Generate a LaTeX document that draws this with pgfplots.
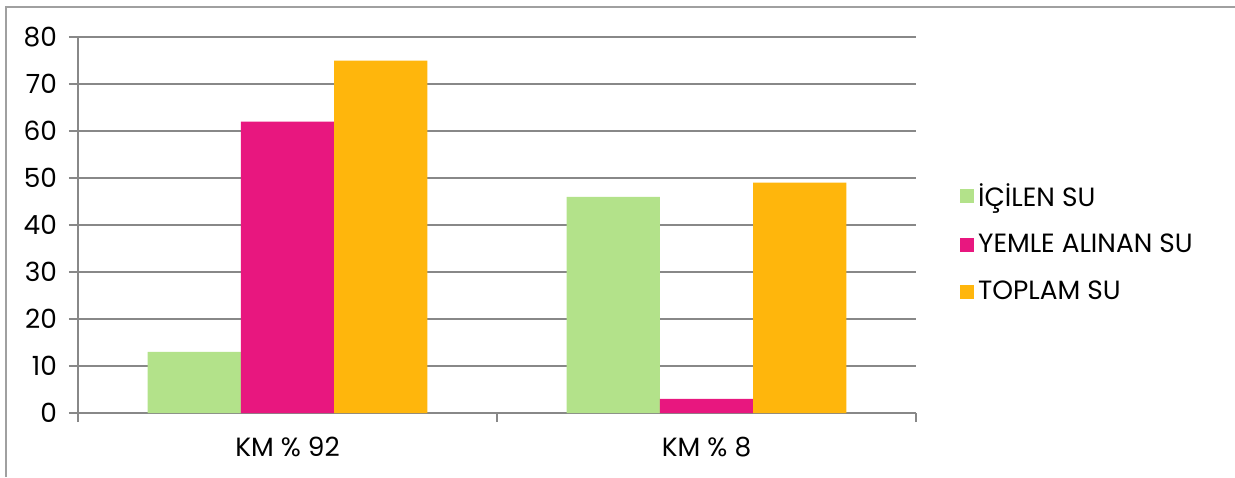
\documentclass[border=0pt]{standalone}
\usepackage{pgfplots}
\pgfplotsset{compat=1.18}
\usepackage{fontspec}
\setmainfont{Poppins}
\definecolor{cgreen}{RGB}{179,226,138}
\definecolor{cpink}{RGB}{232,23,127}
\definecolor{corange}{RGB}{255,182,12}
\definecolor{cgrid}{RGB}{136,136,136}
\begin{document}
\begin{tikzpicture}
\path[use as bounding box] (0pt,0pt) rectangle (617.5pt,238.5pt);
\draw[cgrid!80,line width=1pt] (3pt,0pt) -- (3pt,235pt) -- (617.5pt,235pt);
\begin{axis}[
  at={(39pt,32pt)}, anchor=south west,
  scale only axis, width=419pt, height=188pt,
  ybar=0pt, bar width=0.2226,
  xmin=-0.5, xmax=1.5, ymin=0, ymax=80,
  ytick={0,10,...,80},
  xtick={0,1}, xticklabels={KM \% 92, KM \% 8},
  major x tick style={draw=none},
  minor xtick={-0.5,0.5,1.5},
  minor x tick style={cgrid, line width=0.8pt},
  minor tick length=4.5pt,
  major tick length=4.5pt,
  tick align=outside,
  y tick style={cgrid, line width=0.8pt},
  ymajorgrids, grid style={cgrid, line width=0.7pt},
  axis x line*=bottom, axis y line*=left,
  axis line style={cgrid, line width=0.9pt},
  tick label style={font=\fontsize{13.2pt}{15pt}\selectfont, text=black},
  /pgf/number format/assume math mode=true,
  yticklabel style={xshift=-2.5pt},
  xticklabel style={yshift=-4pt},
  legend style={at={(1.045,0.452)}, anchor=west, draw=none, fill=none,
    font=\fontsize{13.2pt}{15pt}\selectfont, row sep=8.5pt,
    legend cell align=left},
  legend image code/.code={\fill[#1] (0pt,-3.5pt) rectangle (7pt,3.5pt);},
]
\addplot[fill=cgreen, draw=none] coordinates {(0,13) (1,46)};
\addplot[fill=cpink, draw=none] coordinates {(0,62) (1,3)};
\addplot[fill=corange, draw=none] coordinates {(0,75) (1,49)};
\legend{İÇİLEN SU, YEMLE ALINAN SU, TOPLAM SU}
\end{axis}
\end{tikzpicture}
\end{document}
